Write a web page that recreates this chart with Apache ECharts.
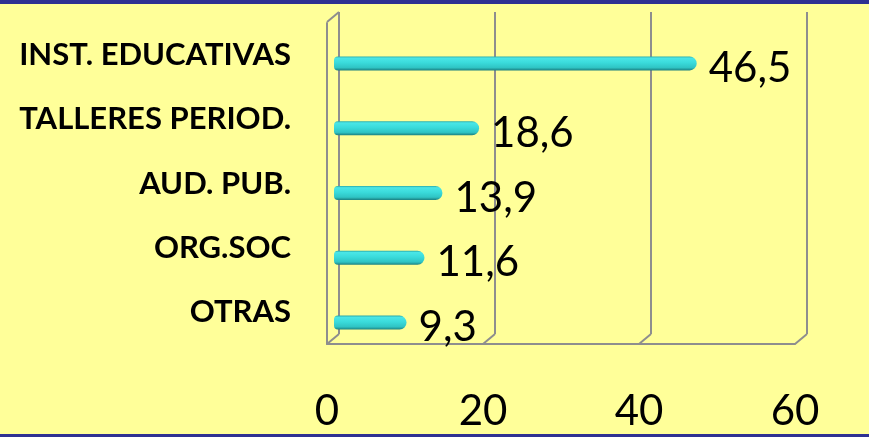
<!DOCTYPE html>
<html>
<head>
<meta charset="utf-8">
<script src="https://cdn.jsdelivr.net/npm/echarts@6/dist/echarts.min.js"></script>
<style>
  html, body { margin: 0; padding: 0; }
  .wrap {
    position: relative;
    width: 869px;
    height: 437px;
    background: #ffff99;
  }
  .edge { position: absolute; left: 0; width: 869px; background: #2e3192; z-index: 2; }
  .edge.top { top: 0; height: 4px; }
  .edge.bottom { bottom: 0; height: 3px; }
  #chart { position: absolute; left: 0; top: 0; width: 869px; height: 437px; }
</style>
</head>
<body>
<div class="wrap">
  <div class="edge top"></div>
  <div id="chart"></div>
  <div class="edge bottom"></div>
</div>
<script>
// datos
const categorias = ['INST. EDUCATIVAS', 'TALLERES PERIOD.', 'AUD. PUB.', 'ORG.SOC', 'OTRAS']
const porcentajes = [46.5, 18.6, 13.9, 11.6, 9.3]
const ejeMin = 0
const ejeMax = 60
const ejePaso = 20
const ticks = [0, 20, 40, 60]

// profundidad del "3D" (pared del fondo respecto al frente)
const DX = 12
const DY = 10
const gris = '#8e8e8e'
const fuente = 'Lato, "Open Sans", sans-serif'

const chart = echarts.init(document.getElementById('chart'), null, { renderer: 'canvas' })

const fmt = v => String(v).replace('.', ',')

// diagonales del piso y esquina superior izquierda
const esquinas = ticks.map(t => [t, 0]).concat([[0, 1]])

chart.setOption({
  backgroundColor: 'transparent',
  animation: false,
  grid: [
    // pared del fondo
    { left: 339, right: 62, top: 12, bottom: 103, outerBoundsMode: 'none' },
    // plano frontal (ejes)
    { left: 339 - DX, right: 62 + DX, top: 12 + DY + 1, bottom: 103 - DY, outerBoundsMode: 'none' },
    // barras (a media profundidad)
    { left: 334, right: 67, top: 31, bottom: 82, outerBoundsMode: 'none' },
  ],
  xAxis: [
    {
      gridIndex: 0, type: 'value', min: ejeMin, max: ejeMax, interval: ejePaso,
      axisLine: { show: false }, axisTick: { show: false }, axisLabel: { show: false },
      splitLine: { show: true, lineStyle: { color: gris, width: 2 } },
    },
    {
      gridIndex: 1, type: 'value', min: ejeMin, max: ejeMax, interval: ejePaso,
      axisLine: { show: true, lineStyle: { color: gris, width: 2 } },
      axisTick: { show: false },
      splitLine: { show: false },
      axisLabel: { color: '#000', fontSize: 42, fontFamily: fuente, margin: 46 },
    },
    {
      gridIndex: 2, type: 'value', min: ejeMin, max: ejeMax, show: false,
    },
  ],
  yAxis: [
    { gridIndex: 0, type: 'value', min: 0, max: 1, show: false },
    {
      gridIndex: 1, type: 'category', data: categorias, inverse: true,
      axisLine: { show: true, lineStyle: { color: gris, width: 2 } },
      axisTick: { show: false },
      axisLabel: {
        color: '#000', fontSize: 31, fontWeight: 'bold', fontFamily: fuente,
        margin: 36, padding: [0, 0, 8, 0],
      },
    },
    { gridIndex: 2, type: 'category', data: categorias, inverse: true, show: false },
  ],
  series: [
    {
      type: 'custom',
      xAxisIndex: 0,
      yAxisIndex: 0,
      silent: true,
      data: esquinas,
      renderItem: (params, api) => {
        const p = api.coord([api.value(0), api.value(1)])
        return {
          type: 'line',
          shape: { x1: p[0], y1: p[1], x2: p[0] - DX, y2: p[1] + DY },
          style: { stroke: gris, lineWidth: 2 },
        }
      },
    },
    {
      type: 'bar',
      xAxisIndex: 2,
      yAxisIndex: 2,
      data: porcentajes,
      barWidth: 14,
      itemStyle: {
        borderRadius: [4, 7, 7, 4],
        color: new echarts.graphic.LinearGradient(0, 0, 0, 1, [
          { offset: 0, color: '#29a9a9' },
          { offset: 0.12, color: '#4ae6e6' },
          { offset: 0.45, color: '#3adbdb' },
          { offset: 0.8, color: '#2fc4c4' },
          { offset: 1, color: '#1b7f80' },
        ]),
      },
      label: {
        show: true,
        position: 'right',
        distance: 12,
        offset: [0, 5],
        color: '#000',
        fontSize: 42,
        fontFamily: fuente,
        formatter: p => fmt(p.value),
      },
    },
  ],
})
</script>
</body>
</html>
